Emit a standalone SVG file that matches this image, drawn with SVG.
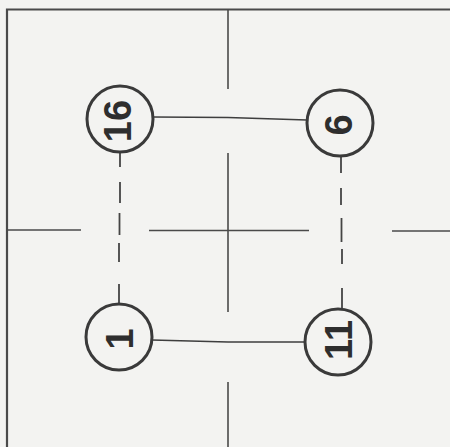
<svg xmlns="http://www.w3.org/2000/svg" width="450" height="447" viewBox="0 0 450 447">
  <style>
    .grid { stroke: #4a4a4a; stroke-width: 1.6; fill: none; }
    .node circle { fill: #f3f3f1; stroke: #3a3a3a; stroke-width: 3; }
    .node text { font-family: "Liberation Sans", Arial, sans-serif; font-weight: bold; font-size: 38px; fill: #2e2e2e; text-anchor: middle; }
    .conn { stroke: #3e3e3e; stroke-width: 1.6; fill: none; }
    .dash { stroke: #444; stroke-width: 1.8; fill: none; }
  </style>
  <rect x="0" y="0" width="450" height="447" fill="#f3f3f1"/>
  <g id="frame" class="grid">
    <polyline points="450,9.5 7,9.5 7,447" stroke-width="2.2"/>
    <line x1="228" y1="9.5" x2="228" y2="89"/>
    <line x1="228" y1="153" x2="228" y2="312"/>
    <line x1="228" y1="382" x2="228" y2="447"/>
    <line x1="7" y1="230" x2="81" y2="230"/>
    <line x1="149" y1="230.5" x2="309" y2="230.5"/>
    <line x1="392" y1="231" x2="450" y2="231"/>
  </g>
  <g id="connectors">
    <polyline class="conn" points="153,117 228,117.5 307,120"/>
    <polyline class="conn" points="152,340 228,342 305,342"/>
    <g class="dash">
      <line x1="120" y1="152" x2="120" y2="167"/>
      <line x1="120" y1="182" x2="120" y2="203"/>
      <line x1="119.5" y1="213" x2="119.5" y2="235"/>
      <line x1="119" y1="243" x2="119" y2="262"/>
      <line x1="119" y1="284" x2="119" y2="304"/>
      <line x1="341" y1="156" x2="341" y2="173"/>
      <line x1="341" y1="188" x2="341" y2="205"/>
      <line x1="341.5" y1="218" x2="341.5" y2="242"/>
      <line x1="342" y1="249" x2="342" y2="264"/>
      <line x1="342" y1="288" x2="342" y2="308"/>
    </g>
  </g>
  <g id="node-16" class="node">
    <circle cx="120" cy="119" r="33"/>
    <text transform="translate(117,121) rotate(-90)" y="13.5">16</text>
  </g>
  <g id="node-6" class="node">
    <circle cx="340" cy="123" r="33"/>
    <text transform="translate(338,125) rotate(-90)" y="13.5">6</text>
  </g>
  <g id="node-1" class="node">
    <circle cx="119" cy="337" r="33"/>
    <text transform="translate(119,339) rotate(-90)" y="13.5">1</text>
  </g>
  <g id="node-11" class="node">
    <circle cx="338" cy="342" r="33"/>
    <text transform="translate(338,340) rotate(-90)" y="13.5">11</text>
  </g>
</svg>
